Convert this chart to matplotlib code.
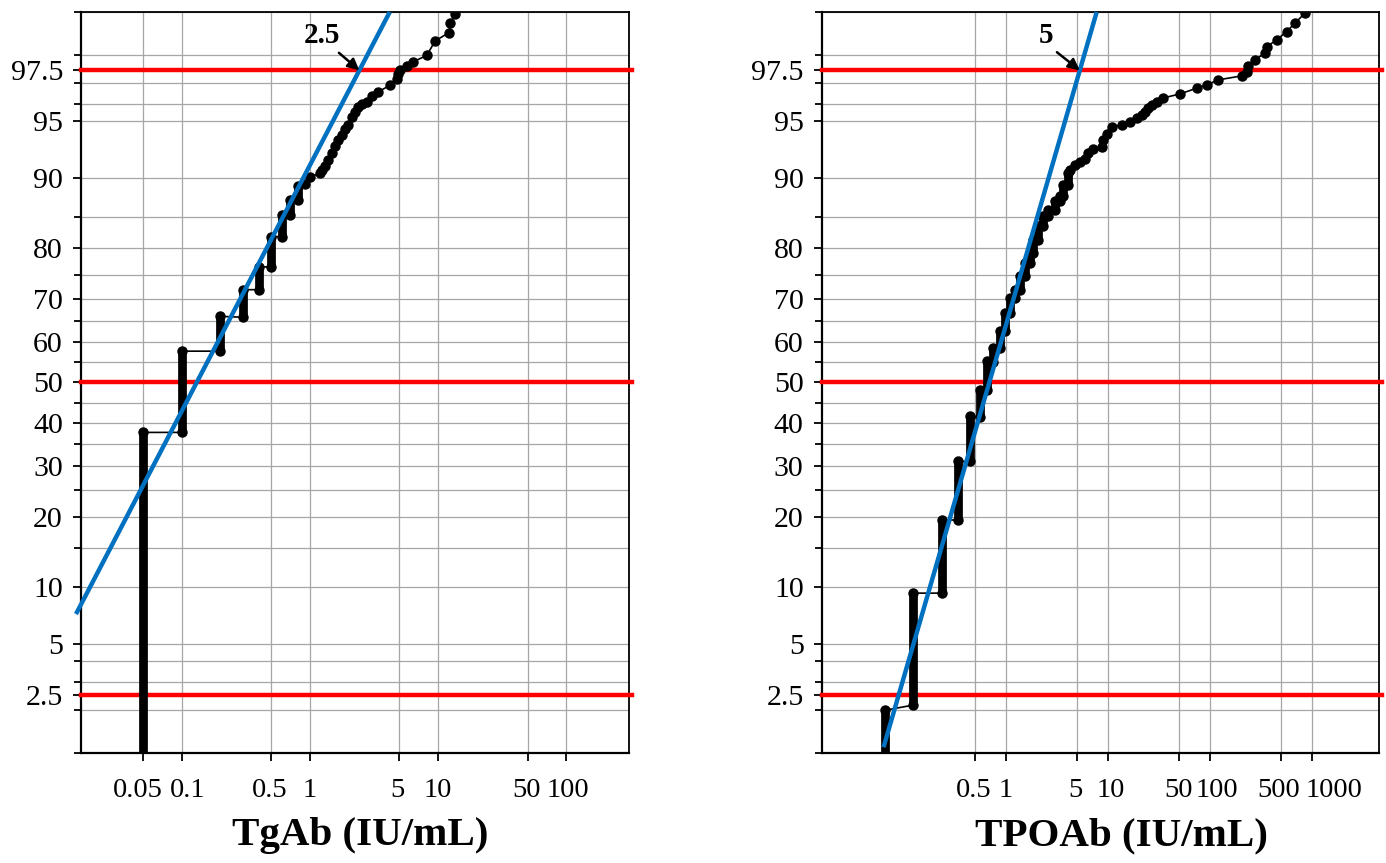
import numpy as np
import matplotlib
matplotlib.use('Agg')
import matplotlib.pyplot as plt
from matplotlib.ticker import FixedLocator, FixedFormatter, NullFormatter, NullLocator
from matplotlib.transforms import ScaledTranslation
from statistics import NormalDist

plt.rcParams['font.family'] = ['Liberation Serif', 'DejaVu Serif']

# ---- data -------------------------------------------------------------
# tied values show up as vertical stacks (value, lowest %, highest %)
tg_stack_value = [0.05, 0.1, 0.2, 0.3, 0.4, 0.5, 0.6, 0.7, 0.8]
tg_stack_lo = [0.9, 37.7, 57.8, 65.9, 72.0, 76.6, 82.0, 85.4, 87.4]
tg_stack_hi = [37.7, 57.8, 66.1, 72.0, 76.6, 82.0, 85.4, 87.4, 89.1]
# single points in the upper tail (value, cumulative %)
tg_point_value = [0.91, 1.0, 1.2, 1.25, 1.31, 1.39, 1.48, 1.57, 1.66, 1.77,
                  1.88, 1.99, 2.12, 2.25, 2.39, 2.53, 2.77, 3.03, 3.42, 4.21,
                  4.76, 4.9, 5.04, 5.69, 6.42, 8.17, 9.49, 12.2, 12.5, 13.6]
tg_point_pct = [89.4, 90.1, 90.6, 90.9, 91.3, 91.9, 92.5, 93.1, 93.6, 94.0,
                94.4, 94.7, 95.2, 95.5, 95.8, 96.0, 96.1, 96.4, 96.6, 96.9,
                97.15, 97.35, 97.5, 97.65, 97.8, 98.0, 98.4, 98.6, 98.8, 98.96]
tg_fit_value = [0.0149, 4.2]
tg_fit_pct = [7.3, 99.0]

tpo_stack_value = [0.065, 0.123, 0.234, 0.341, 0.444, 0.556, 0.65, 0.75, 0.87, 0.98,
                   1.09, 1.23, 1.37, 1.54, 1.72, 1.85, 2.07, 2.32, 2.6, 3.02,
                   3.38, 3.65, 4.08]
tpo_stack_lo = [0.9, 2.14, 9.3, 19.4, 31.0, 41.4, 48.0, 55.0, 58.6, 62.6,
                66.9, 70.3, 72.0, 74.8, 77.4, 79.2, 81.5, 83.7, 85.2, 86.1,
                87.3, 87.9, 89.3]
tpo_stack_hi = [1.98, 9.3, 19.4, 31.0, 41.6, 48.0, 55.3, 58.6, 62.6, 66.9,
                70.3, 72.0, 74.8, 77.4, 79.2, 81.5, 83.7, 85.2, 86.1, 87.3,
                87.9, 89.3, 90.6]
tpo_point_value = [4.24, 4.75, 5.31, 5.95, 6.41, 7.18, 8.67, 9.0, 9.71, 10.9,
                   13.6, 16.4, 19.1, 21.4, 23.1, 24.8, 26.8, 30.0, 34.8, 50.8,
                   74.1, 92.9, 120.6, 204.6, 229, 237, 276, 346, 360, 451,
                   565, 681, 854]
tpo_point_pct = [90.9, 91.4, 91.7, 92.0, 92.5, 92.85, 93.07, 93.6, 94.1, 94.55,
                 94.7, 94.9, 95.15, 95.35, 95.55, 95.75, 95.93, 96.1, 96.3, 96.5,
                 96.77, 96.92, 97.13, 97.29, 97.45, 97.64, 97.86, 98.07, 98.25, 98.43,
                 98.62, 98.8, 98.98]
tpo_fit_value = [0.063, 7.75]
tpo_fit_pct = [1.1, 99.0]

ref_pct = [2.5, 50, 97.5]  # red reference percentiles

y_major = [2.5, 5, 10, 20, 30, 40, 50, 60, 70, 80, 90, 95, 97.5]
y_labels = ['2.5', '5', '10', '20', '30', '40', '50', '60', '70', '80', '90', '95', '97.5']
y_minor = [1, 2, 3, 4, 15, 25, 35, 45, 55, 65, 75, 85, 96, 97, 98, 99]

tg_xticks = [0.05, 0.1, 0.5, 1, 5, 10, 50, 100]
tg_xticklabels = ['0.05', '0.1', '0.5', '1', '5', '10', '50', '100']
tpo_xticks = [0.5, 1, 5, 10, 50, 100, 500, 1000]
tpo_xticklabels = ['0.5', '1', '5', '10', '50', '100', '500', '1000']

# ---- normal probability scale for y -----------------------------------
_norm = NormalDist()
_ppf = np.vectorize(_norm.inv_cdf, otypes=[float])
_cdf = np.vectorize(_norm.cdf, otypes=[float])


def prob_forward(p):
    p = np.clip(np.asarray(p, dtype=float) / 100.0, 1e-9, 1 - 1e-9)
    return _ppf(p)


def prob_inverse(z):
    return _cdf(np.asarray(z, dtype=float)) * 100.0


def draw_panel(ax, stack_value, stack_lo, stack_hi, point_value, point_pct,
               fit_value, fit_pct, cutoff_text, xlim, xticks, xticklabels, label_shift,
               xlabel, label_x, text_offset, arrow_rel):
    ax.set_xscale('log')
    ax.set_yscale('function', functions=(prob_forward, prob_inverse))
    ax.set_xlim(xlim)
    ax.set_ylim(1, 99)

    # ordered path through the data
    path_x, path_y = [], []
    for v, lo, hi in zip(stack_value, stack_lo, stack_hi):
        path_x += [v, v]
        path_y += [lo, hi]
    path_x += list(point_value)
    path_y += list(point_pct)

    ax.plot(path_x, path_y, '-', color='k', lw=1.2, zorder=4)
    for v, lo, hi in zip(stack_value, stack_lo, stack_hi):
        ax.plot([v, v], [lo, hi], color='k', lw=6.3, solid_capstyle='round', zorder=4)
    ax.plot(path_x, path_y, 'o', color='k', ms=6.5, mec='k', zorder=4)

    for p in ref_pct:
        ax.axhline(p, xmin=0, xmax=1.006, color='#ff0000', lw=3.2, clip_on=False, zorder=3)

    ax.plot(fit_value, fit_pct, color='#0070c0', lw=3.2, solid_capstyle='butt',
            clip_on=False, zorder=5)

    # where the fit crosses 97.5 %
    z0, z1 = prob_forward(fit_pct)
    l0, l1 = np.log10(fit_value)
    zc = prob_forward(97.5)
    xc = 10 ** (l0 + (zc - z0) / (z1 - z0) * (l1 - l0))
    ax.annotate(cutoff_text, xy=(xc, 97.5), xytext=text_offset, textcoords='offset points',
                fontsize=21, fontweight='bold', ha='center', va='center', zorder=6,
                arrowprops=dict(arrowstyle='-|>', color='k', lw=1.8, shrinkA=1, shrinkB=0,
                                relpos=arrow_rel, mutation_scale=17))

    ax.yaxis.set_major_locator(FixedLocator(y_major))
    ax.yaxis.set_major_formatter(FixedFormatter(y_labels))
    ax.yaxis.set_minor_locator(FixedLocator(y_minor))
    ax.yaxis.set_minor_formatter(NullFormatter())
    ax.xaxis.set_major_locator(FixedLocator(xticks))
    ax.xaxis.set_major_formatter(FixedFormatter(xticklabels))
    ax.xaxis.set_minor_locator(NullLocator())

    ax.set_axisbelow(True)
    ax.grid(True, which='both', axis='y', color='#a6a6a6', lw=0.9)
    ax.grid(True, which='major', axis='x', color='#a6a6a6', lw=0.9)

    ax.tick_params(axis='both', which='both', direction='out', color='k', width=1.3)
    ax.tick_params(axis='both', which='major', length=6)
    ax.tick_params(axis='both', which='minor', length=5)
    ax.tick_params(axis='y', which='major', pad=7, labelsize=21.5)
    ax.tick_params(axis='x', which='major', pad=12, labelsize=20.5)

    # nudge x tick labels sideways as in the original layout
    fig = ax.figure
    for lab, dx in zip(ax.xaxis.get_majorticklabels(), label_shift):
        lab.set_transform(lab.get_transform() +
                          ScaledTranslation(dx / fig.dpi, 0, fig.dpi_scale_trans))

    for side in ['left', 'bottom']:
        ax.spines[side].set_linewidth(1.6)
    for side in ['top', 'right']:
        ax.spines[side].set_linewidth(1.3)

    ax.set_xlabel(xlabel, fontsize=29.5, fontweight='bold')
    ax.xaxis.set_label_coords(label_x, -0.087)


fig = plt.figure(figsize=(13.86, 8.63), dpi=100)
ax1 = fig.add_axes([81 / 1386, 1 - 753 / 863, 548 / 1386, 741 / 863])
ax2 = fig.add_axes([821.7 / 1386, 1 - 753 / 863, 557.3 / 1386, 741 / 863])

draw_panel(ax1, tg_stack_value, tg_stack_lo, tg_stack_hi, tg_point_value, tg_point_pct,
           tg_fit_value, tg_fit_pct, '2.5', (0.0163, 310), tg_xticks, tg_xticklabels,
           [-6, 5.5, -2, 0, -2, 0, -1, 1.5],
           'TgAb (IU/mL)', 0.509, (-27, 25), (0.85, 0.0))
draw_panel(ax2, tpo_stack_value, tpo_stack_lo, tpo_stack_hi, tpo_point_value, tpo_point_pct,
           tpo_fit_value, tpo_fit_pct, '5', (0.0156, 4540), tpo_xticks, tpo_xticklabels,
           [-1.5, 0, -1.5, 2.5, -1, 7, -3, 22],
           'TPOAb (IU/mL)', 0.537, (-24.5, 25), (1.0, 0.0))

fig.savefig('out.png', dpi=100)
